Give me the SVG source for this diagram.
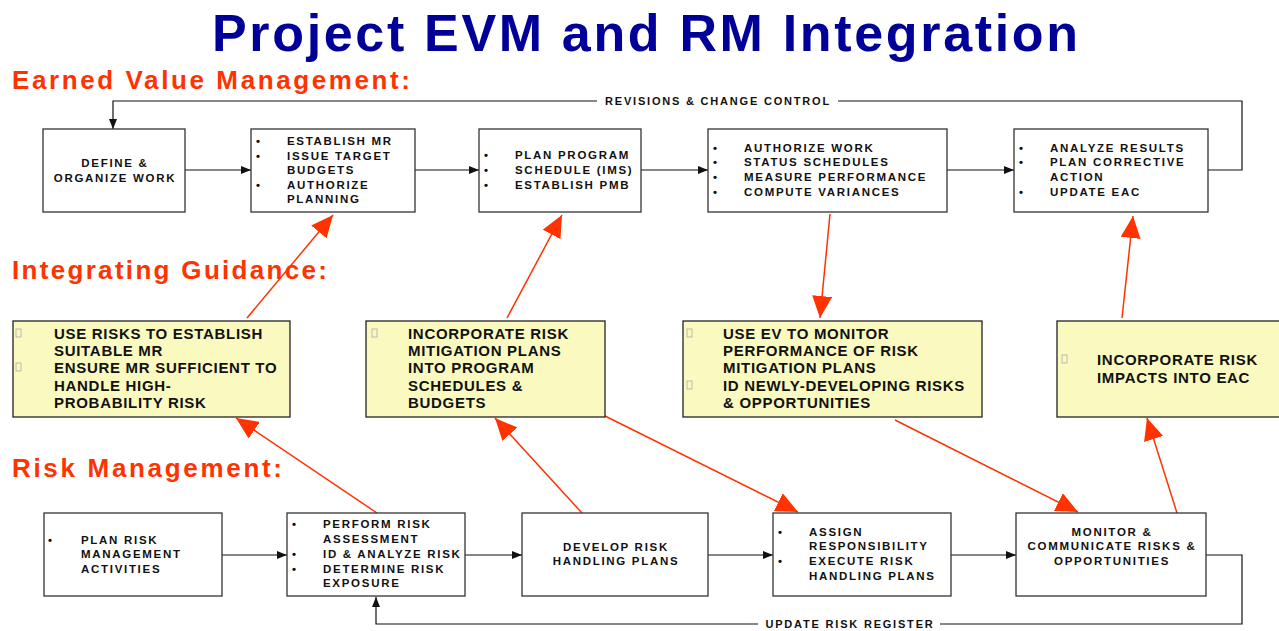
<svg xmlns="http://www.w3.org/2000/svg" width="1279" height="631" viewBox="0 0 1279 631">
<style>
.title{font-family:"Liberation Sans",Arial,sans-serif;font-weight:bold;font-size:52px;fill:#000099}
.sec{font-family:"Liberation Sans",Arial,sans-serif;font-weight:bold;font-size:26px;fill:#FF3300}
.box{fill:#fff;stroke:#333;stroke-width:1.3}
.ybox{fill:#FAFAC0;stroke:#222;stroke-width:1.3}
.t{font-family:"Liberation Sans",Arial,sans-serif;font-weight:bold;font-size:11.5px;letter-spacing:1.7px;fill:#111}
.tc{font-family:"Liberation Sans",Arial,sans-serif;font-weight:bold;font-size:11.5px;letter-spacing:1.7px;fill:#111;text-anchor:middle}
.yt{font-family:"Liberation Sans",Arial,sans-serif;font-weight:bold;font-size:15px;letter-spacing:0.7px;fill:#111}
.lbl{font-family:"Liberation Sans",Arial,sans-serif;font-weight:bold;font-size:11px;letter-spacing:1.8px;fill:#111;text-anchor:middle}
.sq{fill:none;stroke:#aaa;stroke-width:0.8}
.blk{fill:none;stroke:#111;stroke-width:1.2}
.red{fill:none;stroke:#FF3300;stroke-width:1.5}
</style>
<defs>
<marker id="ah" viewBox="0 0 10 8" refX="10" refY="4" markerWidth="10" markerHeight="8" markerUnits="userSpaceOnUse" orient="auto"><path d="M0,0 L10,4 L0,8 z" fill="#111"/></marker>
<marker id="rh" viewBox="0 0 22 20" refX="22" refY="10" markerWidth="22" markerHeight="20" markerUnits="userSpaceOnUse" orient="auto"><path d="M0,0 L22,10 L0,20 z" fill="#FF3300"/></marker>
</defs>

<text class="title" x="212" y="51" textLength="866" lengthAdjust="spacing">Project EVM and RM Integration</text>
<text class="sec" x="12" y="89" textLength="398" lengthAdjust="spacing">Earned Value Management:</text>
<text class="sec" x="12" y="279" textLength="315" lengthAdjust="spacing">Integrating Guidance:</text>
<text class="sec" x="12" y="477" textLength="270" lengthAdjust="spacing">Risk Management:</text>

<g id="connectors">
<line class="blk" x1="185" y1="170" x2="251" y2="170" marker-end="url(#ah)"/>
<line class="blk" x1="415" y1="170" x2="479" y2="170" marker-end="url(#ah)"/>
<line class="blk" x1="641" y1="170" x2="708" y2="170" marker-end="url(#ah)"/>
<line class="blk" x1="947" y1="170" x2="1014" y2="170" marker-end="url(#ah)"/>
<polyline class="blk" points="1208,170 1242,170 1242,101 838,101"/>
<polyline class="blk" points="597,101 113,101 113,129" marker-end="url(#ah)"/>
<text class="lbl" x="718" y="105">REVISIONS &amp; CHANGE CONTROL</text>

<line class="blk" x1="222" y1="555" x2="287" y2="555" marker-end="url(#ah)"/>
<line class="blk" x1="465" y1="555" x2="522" y2="555" marker-end="url(#ah)"/>
<line class="blk" x1="708" y1="555" x2="773" y2="555" marker-end="url(#ah)"/>
<line class="blk" x1="951" y1="555" x2="1016" y2="555" marker-end="url(#ah)"/>
<polyline class="blk" points="1206,555 1242,555 1242,624 940,624"/>
<polyline class="blk" points="758,624 376,624 376,597" marker-end="url(#ah)"/>
<text class="lbl" x="850" y="628">UPDATE RISK REGISTER</text>

<line class="red" x1="247" y1="318" x2="333" y2="215" marker-end="url(#rh)"/>
<line class="red" x1="507" y1="318" x2="562" y2="215" marker-end="url(#rh)"/>
<line class="red" x1="830" y1="214" x2="820" y2="318" marker-end="url(#rh)"/>
<line class="red" x1="1122" y1="318" x2="1133" y2="216" marker-end="url(#rh)"/>
<line class="red" x1="377" y1="513" x2="236" y2="418" marker-end="url(#rh)"/>
<line class="red" x1="582" y1="513" x2="495" y2="418" marker-end="url(#rh)"/>
<line class="red" x1="593" y1="410" x2="798" y2="512" marker-end="url(#rh)"/>
<line class="red" x1="895" y1="420" x2="1078" y2="512" marker-end="url(#rh)"/>
<line class="red" x1="1177" y1="513" x2="1147" y2="418" marker-end="url(#rh)"/>
</g>

<g id="define">
<rect class="box" x="43" y="129" width="142" height="83"/>
<text class="tc" x="115" y="167">DEFINE &amp;</text>
<text class="tc" x="115" y="182">ORGANIZE WORK</text>
</g>
<g id="establish">
<rect class="box" x="251" y="129" width="164" height="83"/>
<text class="t" x="256" y="145">•</text><text class="t" x="287" y="145">ESTABLISH MR</text>
<text class="t" x="256" y="160">•</text><text class="t" x="287" y="160">ISSUE TARGET</text>
<text class="t" x="287" y="174">BUDGETS</text>
<text class="t" x="256" y="189">•</text><text class="t" x="287" y="189">AUTHORIZE</text>
<text class="t" x="287" y="203">PLANNING</text>
</g>
<g id="plan">
<rect class="box" x="479" y="129" width="162" height="83"/>
<text class="t" x="484" y="159">•</text><text class="t" x="515" y="159">PLAN PROGRAM</text>
<text class="t" x="484" y="174">•</text><text class="t" x="515" y="174">SCHEDULE (IMS)</text>
<text class="t" x="484" y="189">•</text><text class="t" x="515" y="189">ESTABLISH PMB</text>
</g>
<g id="authorize">
<rect class="box" x="708" y="129" width="239" height="83"/>
<text class="t" x="713" y="152">•</text><text class="t" x="744" y="152">AUTHORIZE WORK</text>
<text class="t" x="713" y="166">•</text><text class="t" x="744" y="166">STATUS SCHEDULES</text>
<text class="t" x="713" y="181">•</text><text class="t" x="744" y="181">MEASURE PERFORMANCE</text>
<text class="t" x="713" y="196">•</text><text class="t" x="744" y="196">COMPUTE VARIANCES</text>
</g>
<g id="analyze">
<rect class="box" x="1014" y="129" width="194" height="83"/>
<text class="t" x="1019" y="152">•</text><text class="t" x="1050" y="152">ANALYZE RESULTS</text>
<text class="t" x="1019" y="166">•</text><text class="t" x="1050" y="166">PLAN CORRECTIVE</text>
<text class="t" x="1050" y="181">ACTION</text>
<text class="t" x="1019" y="196">•</text><text class="t" x="1050" y="196">UPDATE EAC</text>
</g>

<g id="guide1">
<rect class="ybox" x="13" y="321" width="277" height="96"/>
<rect class="sq" x="16" y="329" width="5" height="8"/>
<text class="yt" x="54" y="339">USE RISKS TO ESTABLISH</text>
<text class="yt" x="54" y="356">SUITABLE MR</text>
<rect class="sq" x="16" y="363" width="5" height="8"/>
<text class="yt" x="54" y="373">ENSURE MR SUFFICIENT TO</text>
<text class="yt" x="54" y="391">HANDLE HIGH-</text>
<text class="yt" x="54" y="408">PROBABILITY RISK</text>
</g>
<g id="guide2">
<rect class="ybox" x="366" y="321" width="239" height="96"/>
<rect class="sq" x="372" y="329" width="5" height="8"/>
<text class="yt" x="408" y="339">INCORPORATE RISK</text>
<text class="yt" x="408" y="356">MITIGATION PLANS</text>
<text class="yt" x="408" y="373">INTO PROGRAM</text>
<text class="yt" x="408" y="391">SCHEDULES &amp;</text>
<text class="yt" x="408" y="408">BUDGETS</text>
</g>
<g id="guide3">
<rect class="ybox" x="683" y="321" width="299" height="96"/>
<rect class="sq" x="687" y="329" width="5" height="8"/>
<text class="yt" x="723" y="339">USE EV TO MONITOR</text>
<text class="yt" x="723" y="356">PERFORMANCE OF RISK</text>
<text class="yt" x="723" y="373">MITIGATION PLANS</text>
<rect class="sq" x="687" y="381" width="5" height="8"/>
<text class="yt" x="723" y="391">ID NEWLY-DEVELOPING RISKS</text>
<text class="yt" x="723" y="408">&amp; OPPORTUNITIES</text>
</g>
<g id="guide4">
<rect class="ybox" x="1057" y="321" width="225" height="96"/>
<rect class="sq" x="1062" y="355" width="5" height="8"/>
<text class="yt" x="1097" y="365">INCORPORATE RISK</text>
<text class="yt" x="1097" y="383">IMPACTS INTO EAC</text>
</g>

<g id="planrisk">
<rect class="box" x="44" y="513" width="178" height="83"/>
<text class="t" x="48" y="544">•</text><text class="t" x="81" y="544">PLAN RISK</text>
<text class="t" x="81" y="558">MANAGEMENT</text>
<text class="t" x="81" y="573">ACTIVITIES</text>
</g>
<g id="assess">
<rect class="box" x="287" y="513" width="178" height="83"/>
<text class="t" x="292" y="528">•</text><text class="t" x="323" y="528">PERFORM RISK</text>
<text class="t" x="323" y="543">ASSESSMENT</text>
<text class="t" x="292" y="558">•</text><text class="t" x="323" y="558">ID &amp; ANALYZE RISK</text>
<text class="t" x="292" y="573">•</text><text class="t" x="323" y="573">DETERMINE RISK</text>
<text class="t" x="323" y="587">EXPOSURE</text>
</g>
<g id="develop">
<rect class="box" x="522" y="513" width="186" height="83"/>
<text class="tc" x="616" y="551">DEVELOP RISK</text>
<text class="tc" x="616" y="565">HANDLING PLANS</text>
</g>
<g id="assign">
<rect class="box" x="773" y="513" width="178" height="83"/>
<text class="t" x="778" y="536">•</text><text class="t" x="809" y="536">ASSIGN</text>
<text class="t" x="809" y="550">RESPONSIBILITY</text>
<text class="t" x="778" y="565">•</text><text class="t" x="809" y="565">EXECUTE RISK</text>
<text class="t" x="809" y="580">HANDLING PLANS</text>
</g>
<g id="monitor">
<rect class="box" x="1016" y="513" width="190" height="83"/>
<text class="tc" x="1112" y="536">MONITOR &amp;</text>
<text class="tc" x="1112" y="550">COMMUNICATE RISKS &amp;</text>
<text class="tc" x="1112" y="565">OPPORTUNITIES</text>
</g>
</svg>
